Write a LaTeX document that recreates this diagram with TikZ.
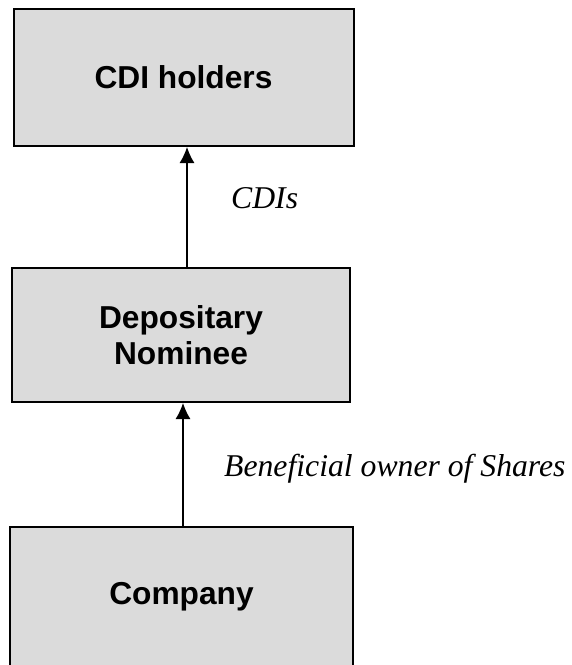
\documentclass[tikz,border=0pt]{standalone}
\usepackage{fontspec}
\setmainfont{Liberation Serif}
\setsansfont{Liberation Sans}
\usetikzlibrary{positioning,arrows.meta}
\definecolor{boxclr}{rgb}{0.86, 0.86, 0.86}
\tikzset{ %
  ,>={Latex[length=16pt,width=15pt]}
  ,party/.style={draw, fill=boxclr, line width=2pt, minimum width=340pt, minimum height=137pt, align=center, inner sep=0, font=\sffamily\bfseries\fontsize{31.7}{35.5}\selectfont}
  ,flow/.style={inner sep=0, anchor=base west, font=\itshape\fontsize{31.7}{36}\selectfont}
  ,link/.style={->, line width=1.3pt}
}

\begin{document}
\begin{tikzpicture}[x=1pt, y=1pt]
    \useasboundingbox (0,0) rectangle (572,-665);
    \draw 
    node[party] at (183.5,-77.5) (holders) {CDI holders} 
    node[party, minimum width=338pt, minimum height=134pt, below=120pt of holders, xshift=-2.5pt] (nominee) {Depositary\\Nominee} 
    node[party, minimum width=343pt, minimum height=160pt, text height=23pt, text depth=28pt, below=123pt of nominee, xshift=0.5pt] (company) {Company};
    \draw[link] ([xshift=6pt]nominee.north) -- ([xshift=3.5pt]holders.south);
    \draw[link] ([xshift=1.5pt]company.north) -- ([xshift=2pt]nominee.south);
    \node[flow] at (231,-208) (cdis) {CDIs};
    \node[flow] at (224,-476) (owner) {Beneficial owner of Shares};
\end{tikzpicture}
\end{document}
